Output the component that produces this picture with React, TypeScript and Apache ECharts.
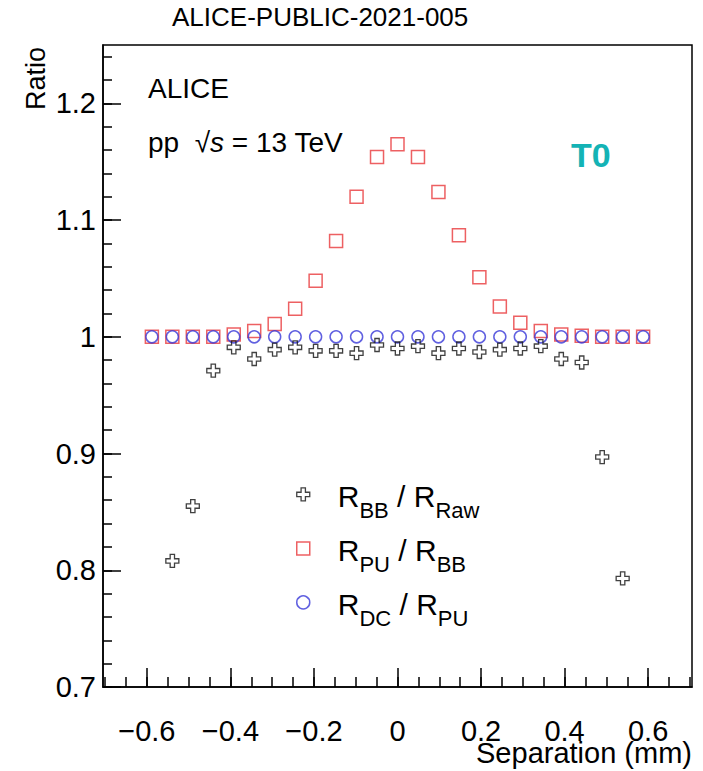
import React, { useEffect, useRef } from 'react';
import * as echarts from 'echarts';

// Beam separation (mm) of each scan step
const separation = [
  -0.588, -0.539, -0.49, -0.441, -0.392, -0.343, -0.294, -0.245, -0.196, -0.147, -0.098, -0.049,
  0, 0.049, 0.098, 0.147, 0.196, 0.245, 0.294, 0.343, 0.392, 0.441, 0.49, 0.539, 0.588,
];
// R_BB / R_Raw (null = off scale)
const ratioBBRaw = [
  null, 0.808, 0.855, 0.971, 0.991, 0.981, 0.989, 0.991, 0.988, 0.988, 0.986, 0.993,
  0.99, 0.992, 0.986, 0.99, 0.987, 0.989, 0.99, 0.992, 0.981, 0.978, 0.897, 0.793, null,
];
// R_PU / R_BB
const ratioPUBB = [
  1.0, 1.0, 1.0, 1.0, 1.002, 1.005, 1.011, 1.024, 1.048, 1.082, 1.12, 1.154,
  1.165, 1.154, 1.124, 1.087, 1.051, 1.026, 1.012, 1.005, 1.002, 1.001, 1.0, 1.0, 1.0,
];
// R_DC / R_PU
const ratioDCPU = [
  1, 1, 1, 1, 1, 1, 1, 1, 1, 1, 1, 1, 1, 1, 1, 1, 1, 1, 1, 1, 1, 1, 1, 1, 1,
];

const xMajorTicks = [-0.6, -0.4, -0.2, 0, 0.2, 0.4, 0.6];
const yMajorTicks = [0.7, 0.8, 0.9, 1.0, 1.1, 1.2];
const seriesNames = ['BBRaw', 'PUBB', 'DCPU'];
const legendLabels: Record<string, string> = {
  BBRaw: '{m|R}{s|BB}{m| / R}{s|Raw}',
  PUBB: '{m|R}{s|PU}{m| / R}{s|BB}',
  DCPU: '{m|R}{s|DC}{m| / R}{s|PU}',
};

const FONT = '"Liberation Sans", Arial, Helvetica, sans-serif';
const RED = '#e8383b';
const BLUE = '#3838d8';
const BLACK = '#111111';
const CROSS = 'path://M4,0H8V4H12V8H8V12H4V8H0V4H4Z';

const xMinorTicks: number[] = [];
for (let k = -14; k <= 14; k++) xMinorTicks.push(Math.round(k * 5) / 100);
const yMinorTicks: number[] = [];
for (let k = 35; k <= 62; k++) yMinorTicks.push(Math.round(k * 2) / 100);

const pairs = (vals: (number | null)[]) =>
  separation.map((x, i) => [x, vals[i]]).filter((p) => p[1] !== null);

const fmtX = (v: number) => {
  if (Math.abs(v) < 1e-9) return '0';
  return (v < 0 ? '\u2212' : '') + Math.abs(v).toFixed(1);
};
const fmtY = (v: number) => (Math.abs(v - 1) < 1e-9 ? '1' : v.toFixed(1));

export default function App() {
  const ref = useRef<HTMLDivElement>(null);
  useEffect(() => {
    if (!ref.current) return;
    const chart = echarts.init(ref.current, null, { renderer: 'svg' });
    const xMin = -0.705;
    const xMax = 0.705;
    const yMin = 0.7;
    const yMax = 1.25;
    const axisBase = {
      type: 'value' as const,
      splitLine: { show: false },
    };
    const tickLine = { color: '#000', width: 1.5 };
    chart.setOption({
      animation: false,
      backgroundColor: '#ffffff',
      textStyle: { fontFamily: FONT },
      grid: {
        left: 103,
        top: 45,
        width: 589,
        height: 642,
        show: true,
        borderColor: '#000',
        borderWidth: 1.5,
        backgroundColor: 'transparent',
        outerBoundsMode: 'none',
        containLabel: false,
      },
      xAxis: [
        {
          ...axisBase,
          min: xMin,
          max: xMax,
          position: 'bottom',
          axisLine: { show: true, onZero: false, lineStyle: tickLine },
          axisTick: { show: true, inside: true, length: 10, customValues: xMinorTicks, lineStyle: tickLine },
          axisLabel: { show: false },
        },
        {
          ...axisBase,
          min: xMin,
          max: xMax,
          position: 'bottom',
          axisLine: { show: false, onZero: false },
          axisTick: { show: true, inside: true, length: 19, customValues: xMajorTicks, lineStyle: tickLine },
          axisLabel: {
            show: true,
            customValues: xMajorTicks,
            formatter: fmtX,
            fontSize: 29,
            lineHeight: 20,
            fontFamily: FONT,
            color: '#000',
            margin: 34,
          },
        },
      ],
      yAxis: [
        {
          ...axisBase,
          min: yMin,
          max: yMax,
          position: 'left',
          axisLine: { show: true, onZero: false, lineStyle: tickLine },
          axisTick: { show: true, inside: true, length: 9, customValues: yMinorTicks, lineStyle: tickLine },
          axisLabel: { show: false },
        },
        {
          ...axisBase,
          min: yMin,
          max: yMax,
          position: 'left',
          axisLine: { show: false, onZero: false },
          axisTick: { show: true, inside: true, length: 18, customValues: yMajorTicks, lineStyle: tickLine },
          axisLabel: {
            show: true,
            customValues: yMajorTicks,
            formatter: fmtY,
            fontSize: 29,
            lineHeight: 22,
            fontFamily: FONT,
            color: '#000',
            margin: 7,
          },
        },
      ],
      legend: {
        orient: 'vertical',
        left: 296,
        top: 471.4,
        padding: 0,
        itemGap: 4,
        itemWidth: 13,
        itemHeight: 13,
        selectedMode: false,
        data: [
          { name: 'BBRaw', icon: CROSS, itemStyle: { color: 'rgba(0,0,0,0)', borderColor: BLACK, borderWidth: 1.3 } },
          { name: 'PUBB', icon: 'rect', itemStyle: { color: 'rgba(0,0,0,0)', borderColor: RED, borderWidth: 1.5 } },
          { name: 'DCPU', icon: 'circle', itemStyle: { color: 'rgba(0,0,0,0)', borderColor: BLUE, borderWidth: 1.5 } },
        ],
        formatter: (name: string) => legendLabels[name],
        textStyle: {
          color: '#000',
          fontFamily: FONT,
          padding: [4, 0, 0, 23],
          rich: {
            m: { fontSize: 30, lineHeight: 30, fontFamily: FONT, color: '#000' },
            s: { fontSize: 22, lineHeight: 22, padding: [28, 0, 0, 0], fontFamily: FONT, color: '#000' },
          },
        },
      },
      series: [
        {
          name: seriesNames[1],
          type: 'scatter',
          xAxisIndex: 0,
          yAxisIndex: 0,
          data: pairs(ratioPUBB),
          symbol: 'rect',
          symbolSize: 13,
          itemStyle: { color: 'rgba(0,0,0,0)', borderColor: RED, borderWidth: 1.5 },
          z: 2,
        },
        {
          name: seriesNames[2],
          type: 'scatter',
          xAxisIndex: 0,
          yAxisIndex: 0,
          data: pairs(ratioDCPU),
          symbol: 'circle',
          symbolSize: 12,
          itemStyle: { color: 'rgba(0,0,0,0)', borderColor: BLUE, borderWidth: 1.5 },
          z: 3,
        },
        {
          name: seriesNames[0],
          type: 'scatter',
          xAxisIndex: 0,
          yAxisIndex: 0,
          data: pairs(ratioBBRaw),
          symbol: CROSS,
          symbolSize: 13,
          itemStyle: { color: 'rgba(0,0,0,0)', borderColor: BLACK, borderWidth: 1.3 },
          z: 4,
        },
      ],
      graphic: [
        {
          type: 'text',
          x: 172,
          y: 17,
          style: { text: 'ALICE-PUBLIC-2021-005', fontSize: 26, lineHeight: 20, fontFamily: FONT, fill: '#000', align: 'left', verticalAlign: 'middle' },
        },
        {
          type: 'text',
          x: 35.5,
          y: 110,
          rotation: Math.PI / 2,
          style: { text: 'Ratio', fontSize: 27, lineHeight: 20, fontFamily: FONT, fill: '#000', align: 'left', verticalAlign: 'middle' },
        },
        {
          type: 'text',
          x: 692,
          y: 753,
          style: { text: 'Separation (mm)', fontSize: 29, lineHeight: 22, fontFamily: FONT, fill: '#000', align: 'right', verticalAlign: 'middle' },
        },
        {
          type: 'text',
          x: 148,
          y: 88.3,
          style: { text: 'ALICE', fontSize: 28, lineHeight: 22, fontFamily: FONT, fill: '#000', align: 'left', verticalAlign: 'middle' },
        },
        {
          type: 'text',
          x: 148,
          y: 142.3,
          style: {
            text: '{n|pp  \u221A}{i|s}{n| = 13 TeV}',
            fontSize: 28,
            fontFamily: FONT,
            fill: '#000',
            align: 'left',
            verticalAlign: 'middle',
            rich: {
              n: { fontSize: 28, lineHeight: 22, fontFamily: FONT, fill: '#000' },
              i: { fontSize: 28, lineHeight: 22, fontFamily: FONT, fontStyle: 'italic', fill: '#000' },
            },
          },
        },
        {
          type: 'text',
          x: 571,
          y: 155.2,
          style: { text: 'T0', fontSize: 34, lineHeight: 26, fontWeight: 'bold', fontFamily: FONT, fill: '#14b3b5', align: 'left', verticalAlign: 'middle' },
        },
      ],
    });
    return () => chart.dispose();
  }, []);
  return (
    <div
      ref={ref}
      style={{ position: 'fixed', left: 0, top: 0, width: 703, height: 771, background: '#fff' }}
    />
  );
}
